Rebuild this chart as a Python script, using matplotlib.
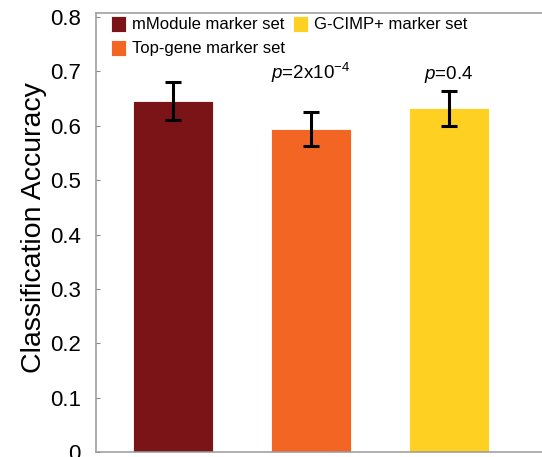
import matplotlib
matplotlib.use('Agg')
import matplotlib.pyplot as plt

# данные
labels = ['mModule marker set', 'Top-gene marker set', 'G-CIMP+ marker set']
accuracy = [0.646, 0.594, 0.632]
errors = [0.035, 0.031, 0.033]
pvalues = [None, r'$p$=2x10$^{-4}$', r'$p$=0.4']
colors = ['#7A1416', '#F26522', '#FDD022']

plt.rcParams['font.family'] = 'Liberation Sans'
plt.rcParams['mathtext.fontset'] = 'custom'
plt.rcParams['mathtext.rm'] = 'Liberation Sans'
plt.rcParams['mathtext.it'] = 'Liberation Sans:italic'

dpi = 100
fig = plt.figure(figsize=(542 / dpi, 457 / dpi), dpi=dpi)
ax = fig.add_axes([0.177, 0.011, 0.843, 0.961])

xs = range(len(labels))
bars = ax.bar(xs, accuracy, width=0.58, color=colors, edgecolor='white',
              linewidth=0.6, zorder=2)
ax.errorbar(xs, accuracy, yerr=errors, fmt='none', ecolor='black',
            elinewidth=2.2, capsize=5.8, capthick=2.2, zorder=3)

for x, p in zip(xs, pvalues):
    if p:
        ax.text(x, 0.686, p, ha='center', va='baseline', fontsize=13.5)

ax.set_xlim(-0.558, 2.754)
ax.set_ylim(0, 0.808)
ax.set_xticks([])
ax.set_yticks([0, 0.1, 0.2, 0.3, 0.4, 0.5, 0.6, 0.7, 0.8])
ax.set_yticklabels(['0', '0.1', '0.2', '0.3', '0.4', '0.5', '0.6', '0.7', '0.8'])
ax.tick_params(axis='y', direction='in', length=3, color='#888888',
               labelsize=16, pad=11)
ax.set_ylabel('Classification Accuracy', fontsize=20.5, labelpad=2)
ax.yaxis.label.set_y(0.512)
for s in ['left', 'bottom', 'top']:
    ax.spines[s].set_color('#999999')
    ax.spines[s].set_linewidth(1.1)
ax.spines['right'].set_visible(False)

ax.legend(bars, labels, ncol=2, loc='upper left',
          bbox_to_anchor=(0.204, 0.966), bbox_transform=fig.transFigure,
          frameon=False, fontsize=12, handlelength=0.9, handleheight=1.1,
          handletextpad=0.36, columnspacing=0.5, labelspacing=0.45,
          borderpad=0, borderaxespad=0)

fig.savefig('out.png', dpi=dpi)
